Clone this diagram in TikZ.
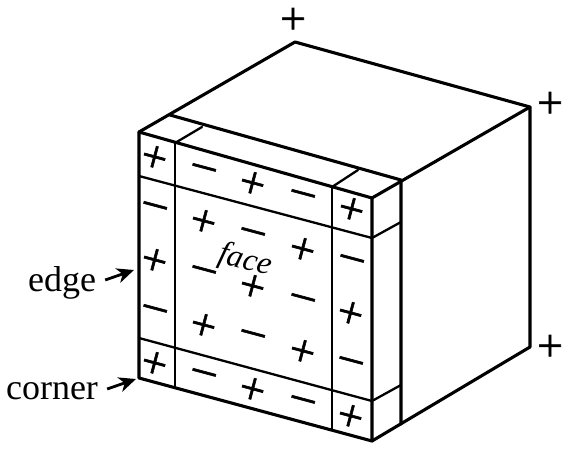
\documentclass[tikz,border=0pt]{standalone}
\usepackage{fontspec}
\setmainfont{Liberation Serif}
\newfontfamily\sgnfont[FakeBold=1.2]{Liberation Serif}
\usetikzlibrary{arrows.meta}
\tikzset{
  heavy/.style={line width=3.1pt,line join=round,line cap=round},
  mid/.style={line width=2.3pt,line join=round,line cap=round},
  sgn/.style={inner sep=0pt,rotate=-15,font=\sgnfont\fontsize{46}{46}\selectfont},
  freesgn/.style={inner sep=0pt,font=\sgnfont\fontsize{46}{46}\selectfont},
  lab/.style={inner sep=0pt,font=\fontsize{36}{36}\selectfont},
  ptr/.style={line width=2.8pt,-{Stealth[length=17pt,width=15pt,inset=5pt]}}
}
\newcommand{\pp}[1]{\node[sgn] at (#1) {+};}
\newcommand{\mm}[1]{\node[sgn] at (#1) {–};}
\begin{document}
\begin{tikzpicture}[x=1pt,y=-1pt]
\useasboundingbox (0,0) rectangle (570,450);
\coordinate (tl) at (139,132);
\coordinate (tr) at (372,198);
\coordinate (bl) at (139,378);
\coordinate (br) at (372,441);
\coordinate (back) at (295,42);
\coordinate (rt) at (530,107);
\coordinate (rb) at (530,347);
\coordinate (st) at (170,115);
\coordinate (sr) at (401,180);
\coordinate (sb) at (401,424);
% inner thin lines
\draw[mid] (175,143) -- (202,127);
\draw[mid] (332,187) -- (358,170);
\draw[mid] (175,143) -- (175,387);
\draw[mid] (332,187) -- (332,429);
\draw[mid] (139,176) -- (372,238) -- (401,222);
\draw[mid] (139,338) -- (372,401) -- (401,385);
% outlines
\draw[heavy] (st) -- (sr) -- (sb);
\draw[heavy] (tl) -- (back) -- (rt) -- (rb) -- (br);
\draw[heavy] (tr) -- (rt);
\draw[heavy] (tl) -- (tr) -- (br) -- (bl) -- cycle;
% signs
\pp{154,159}\mm{203,172}\pp{252,185}\mm{302,198}\pp{351,211}
\mm{154,210}\pp{203,223}\mm{252,236}\pp{302,251}\mm{351,263}
\pp{154,262}\mm{203,274}\pp{252,288}\mm{302,302}\pp{350,315}
\mm{154,313}\pp{203,327}\mm{252,338}\pp{302,353}\mm{350,365}
\pp{154,365}\mm{203,377}\pp{252,391}\mm{302,404}\pp{350,418}
\node[freesgn] (p1) at (293,21) {+};
\node[freesgn] (p2) at (550,105) {+};
\node[freesgn] (p3) at (550,348) {+};
\node[lab,rotate=-15,font=\fontsize{32}{32}\selectfont\itshape] (face) at (245,261) {face};
\node[lab] (edge) at (62,283) {edge};
\node[lab] (corner) at (52,391) {corner};
\coordinate (ea) at (134,270);
\coordinate (ca) at (136,379);
\draw[ptr] (edge.east) ++(9,-3) -- (ea);
\draw[ptr] (corner.east) ++(9,-2) -- (ca);
\end{tikzpicture}
\end{document}
